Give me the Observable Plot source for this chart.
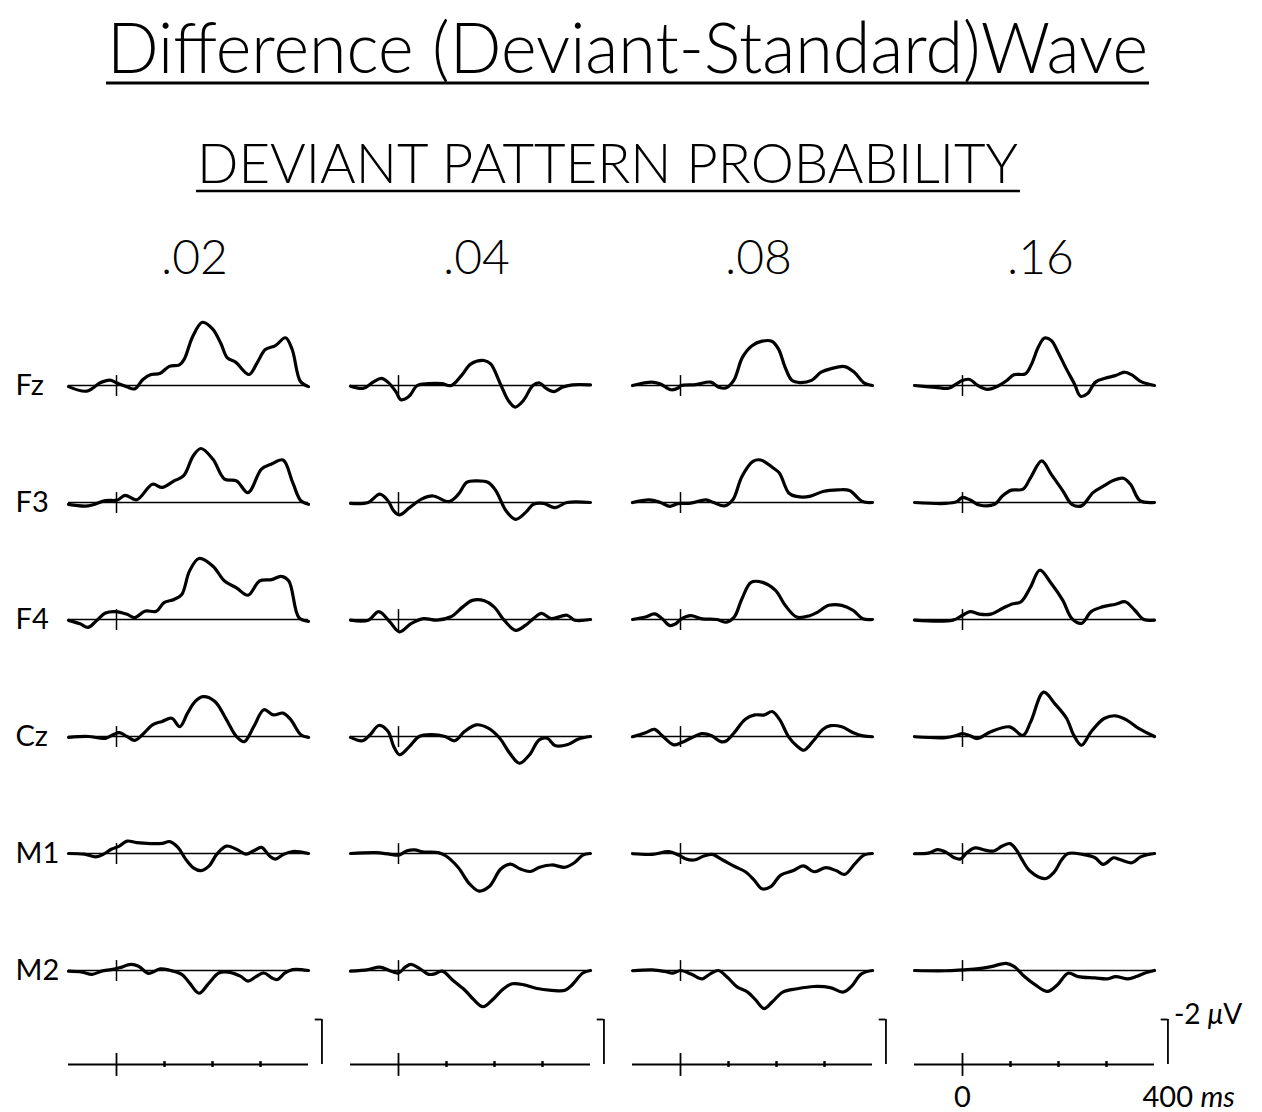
<!DOCTYPE html>
<html>
<head>
<meta charset="utf-8">
<script src="https://cdn.jsdelivr.net/npm/d3@7"></script>
<script src="https://cdn.jsdelivr.net/npm/@observablehq/plot@0.6"></script>
<style>
  html, body { margin: 0; padding: 0; background: #fff; overflow: hidden; }
  #chart svg { display: block; }
</style>
</head>
<body>
<div id="chart"></div>
<script>
// ---- Texts ----
const title = "Difference (Deviant-Standard)Wave";
const subtitle = "DEVIANT PATTERN PROBABILITY";
const electrodes = ["Fz", "F3", "F4", "Cz", "M1", "M2"];
const probabilities = [".02", ".04", ".08", ".16"];
const scaleTicks = [100, 200, 300];      // ms, small ticks on the calibration axis
const scaleBarUv = -2;                   // µV, calibration bar (negative up)
const scaleBarTime = 428;                // ms, where the calibration bar stands

// ---- Waveforms: [time (ms), amplitude (µV), negative plotted up] ----
const Fz_02 = [[-100,0.05],[-62,0.25],[-34,-0.12],[-14,-0.24],[0,-0.12],[21,0.05],[38,0.15],[55,-0.27],[72,-0.49],[90,-0.53],[110,-0.85],[131,-0.92],[141,-1.16],[159,-2.19],[179,-2.81],[200,-2.52],[217,-1.89],[231,-1.23],[248,-1.04],[276,-0.49],[293,-1.01],[310,-1.6],[331,-1.77],[352,-2.12],[366,-1.6],[383,-0.19],[400,0.05]];
const Fz_04 = [[-100,0.03],[-73,0.12],[-53,-0.15],[-36,-0.32],[-22,-0.15],[-5,0.29],[5,0.63],[22,0.48],[39,0],[63,-0.08],[90,-0.08],[110,0],[131,-0.44],[151,-0.96],[178,-1.11],[192,-0.96],[212,-0.08],[229,0.67],[243,0.96],[260,0.67],[280,0],[294,-0.11],[307,0.12],[324,0.27],[341,0.08],[362,-0.03],[400,-0.03]];
const Fz_08 = [[-100,0],[-60,-0.15],[-43,-0.08],[-19,0.19],[-5,0.11],[1,0],[32,-0.04],[63,-0.15],[80,0.08],[94,0.11],[111,-0.23],[129,-1.25],[149,-1.77],[170,-1.97],[190,-1.97],[204,-1.63],[218,-0.81],[232,-0.23],[249,-0.13],[273,-0.23],[293,-0.59],[314,-0.75],[342,-0.84],[362,-0.59],[383,-0.11],[400,0]];
const Fz_16 = [[-100,0],[-56,0.08],[-29,0.12],[-12,-0.08],[1,-0.23],[15,-0.27],[32,0],[52,0.17],[76,0],[93,-0.23],[107,-0.48],[131,-0.52],[144,-0.96],[158,-1.71],[171,-2.11],[185,-2],[199,-1.48],[216,-0.75],[233,-0.08],[246,0.48],[260,0.37],[277,-0.15],[297,-0.32],[318,-0.44],[338,-0.59],[352,-0.48],[372,-0.17],[400,0]];

const F3_02 = [[-100,0.08],[-59,0.15],[-23,-0.08],[2,-0.11],[18,-0.32],[42,-0.12],[75,-0.81],[95,-0.67],[120,-0.96],[140,-1.19],[160,-2.08],[176,-2.4],[201,-1.92],[225,-1.04],[250,-0.96],[274,-0.44],[302,-1.48],[323,-1.71],[347,-1.89],[367,-0.89],[384,-0.08],[400,0.08]];
const F3_04 = [[-100,0.04],[-63,0],[-39,-0.37],[-22,-0.08],[-10,0.37],[2,0.55],[23,0.23],[48,-0.15],[72,-0.29],[105,-0.04],[125,-0.37],[142,-0.89],[162,-0.96],[187,-0.89],[203,-0.52],[224,0.37],[244,0.75],[265,0.44],[281,0.08],[302,0.04],[326,0.23],[351,0],[400,0]];
const F3_08 = [[-100,0],[-65,-0.12],[-42,0],[-22,0.17],[-6,0.05],[21,0.03],[53,-0.12],[69,0],[92,0.15],[109,-0.12],[128,-1.16],[151,-1.83],[167,-1.89],[194,-1.52],[206,-1.31],[226,-0.41],[242,-0.27],[269,-0.27],[297,-0.49],[328,-0.56],[352,-0.53],[379,-0.04],[400,0]];
const F3_16 = [[-100,0],[-35,0.04],[-12,-0.04],[0,-0.23],[16,-0.11],[35,0.11],[67,0.08],[83,-0.29],[102,-0.55],[126,-0.59],[142,-1.11],[165,-1.85],[185,-1.25],[209,-0.52],[228,0.08],[248,0.15],[272,-0.44],[295,-0.75],[315,-0.99],[335,-1.08],[350,-0.81],[370,-0.08],[400,0]];

const F4_02 = [[-100,0.04],[-76,0.19],[-59,0.35],[-39,0],[-23,-0.29],[-2,-0.35],[22,-0.23],[38,-0.08],[59,-0.37],[83,-0.37],[99,-0.75],[120,-0.89],[136,-1.11],[152,-2.15],[172,-2.71],[201,-2.37],[225,-1.71],[250,-1.41],[274,-1.08],[298,-1.71],[323,-1.77],[343,-1.92],[359,-1.71],[380,-0.08],[400,0.08]];
const F4_04 = [[-100,0.03],[-63,0.03],[-41,-0.35],[-18,0.11],[2,0.55],[27,0.17],[52,-0.04],[80,0.03],[109,-0.12],[134,-0.56],[154,-0.85],[179,-0.83],[199,-0.56],[220,0.03],[244,0.48],[265,0.25],[281,-0.04],[298,-0.27],[318,-0.04],[351,-0.19],[367,0.03],[400,0]];
const F4_08 = [[-100,0],[-73,-0.11],[-54,-0.25],[-38,-0.03],[-22,0.27],[-10,0.19],[2,-0.03],[21,-0.17],[45,-0.03],[76,0],[96,0.12],[112,-0.11],[128,-0.92],[147,-1.65],[171,-1.65],[198,-1.29],[218,-0.63],[242,-0.11],[269,-0.17],[285,-0.32],[309,-0.63],[336,-0.63],[360,-0.4],[380,-0.03],[400,0]];
const F4_16 = [[-100,0.03],[-20,0.03],[0,-0.19],[16,-0.35],[35,-0.24],[59,-0.24],[83,-0.49],[102,-0.68],[122,-0.79],[142,-1.45],[161,-2.19],[185,-1.6],[209,-0.85],[228,-0.04],[248,0.17],[268,-0.35],[291,-0.56],[319,-0.68],[339,-0.79],[359,-0.41],[378,0],[400,0.03]];

const Cz_02 = [[-100,0.04],[-59,0],[-23,0.08],[-7,-0.08],[6,-0.17],[22,0],[38,0.17],[54,-0.08],[75,-0.52],[95,-0.67],[115,-0.81],[132,-0.44],[148,-1.04],[164,-1.56],[180,-1.77],[205,-1.56],[229,-0.75],[250,0],[266,0.23],[286,-0.44],[307,-1.19],[327,-0.96],[347,-1.04],[363,-0.75],[384,-0.08],[400,0.04]];
const Cz_04 = [[-100,0.04],[-75,0.19],[-59,-0.08],[-41,-0.49],[-22,-0.23],[-10,0.44],[2,0.81],[23,0.44],[43,0],[68,-0.08],[97,0],[117,0.19],[138,-0.23],[162,-0.52],[187,-0.37],[211,0.08],[232,0.75],[252,1.19],[273,0.81],[293,0.15],[310,0.08],[326,0.4],[351,0.37],[375,0.11],[400,0]];
const Cz_08 = [[-100,0.01],[-73,-0.17],[-54,-0.32],[-38,-0.03],[-14,0.37],[2,0.27],[21,0.08],[45,-0.13],[65,-0.03],[84,0.23],[96,0.19],[112,-0.17],[135,-0.77],[155,-0.96],[175,-0.96],[191,-1.11],[206,-0.77],[226,0.04],[242,0.41],[257,0.61],[277,0.19],[297,-0.32],[313,-0.48],[336,-0.43],[360,-0.17],[380,-0.03],[400,0.01]];
const Cz_16 = [[-100,0.01],[-35,0.05],[-12,-0.05],[0,-0.13],[16,-0.03],[31,0.09],[59,-0.21],[98,-0.43],[126,-0.05],[142,-0.65],[169,-1.97],[193,-1.44],[217,-0.8],[232,-0.05],[248,0.39],[268,-0.21],[295,-0.8],[319,-0.92],[343,-0.72],[367,-0.36],[400,0]];

const M1_02 = [[-100,0],[-67,0.03],[-43,0.15],[-27,0.03],[-11,-0.19],[6,-0.33],[22,-0.55],[42,-0.48],[71,-0.44],[95,-0.45],[111,-0.53],[128,-0.27],[144,0.25],[160,0.64],[176,0.76],[193,0.55],[209,0.03],[229,-0.33],[250,-0.19],[270,0.03],[286,-0.12],[302,-0.27],[319,0.11],[331,0.25],[347,0.05],[367,-0.09],[400,0]];
const M1_04 = [[-100,0],[-47,-0.04],[-19,0.03],[0,0.07],[18,-0.12],[34,-0.16],[50,-0.07],[83,-0.04],[99,0.11],[124,0.61],[148,1.35],[168,1.67],[189,1.47],[213,0.69],[233,0.47],[254,0.69],[274,0.8],[294,0.61],[319,0.51],[347,0.61],[367,0.4],[384,0.07],[400,0]];
const M1_08 = [[-100,0.01],[-59,0.04],[-24,-0.08],[-3,0.08],[10,0.23],[28,0.29],[49,0.11],[66,0.04],[88,0.29],[114,0.59],[135,0.81],[153,1.17],[170,1.57],[188,1.47],[209,0.96],[234,0.77],[256,0.55],[278,0.81],[303,0.63],[325,0.77],[342,0.93],[364,0.44],[381,0.08],[400,0]];
const M1_16 = [[-100,0.01],[-69,-0.03],[-52,-0.17],[-34,-0.05],[-17,0.19],[-4,0.24],[9,-0.03],[26,-0.25],[47,-0.15],[65,-0.11],[82,-0.32],[99,-0.44],[112,-0.17],[124,0.27],[141,0.79],[172,1.12],[190,0.85],[207,0.27],[220,0],[250,0.04],[276,0.19],[293,0.48],[315,0.19],[328,0.27],[353,0.41],[371,0.15],[388,0.04],[400,0]];

const M2_02 = [[-100,0.03],[-72,0.07],[-51,0.17],[-31,0.03],[-11,-0.04],[6,-0.12],[30,-0.27],[46,-0.19],[67,0.13],[91,-0.07],[111,-0.01],[136,0.17],[152,0.55],[172,1.01],[193,0.55],[213,0.11],[233,0.07],[258,0.25],[274,0.47],[290,0.28],[307,0.11],[323,0.32],[335,0.4],[351,0.11],[367,-0.04],[400,0]];
const M2_04 = [[-100,0.03],[-63,-0.04],[-39,-0.15],[-19,0],[0,0.11],[14,-0.15],[26,-0.27],[42,-0.12],[63,0.17],[75,0.15],[91,0.03],[115,0.47],[140,0.91],[156,1.28],[176,1.61],[197,1.28],[217,0.84],[237,0.59],[262,0.64],[286,0.79],[319,0.88],[347,0.88],[363,0.61],[384,0.11],[400,0]];
const M2_08 = [[-100,0.01],[-59,-0.03],[-33,0.04],[-16,0.12],[0,0],[23,0.17],[45,0.37],[62,0.15],[79,0],[97,0.29],[118,0.73],[140,0.96],[157,1.32],[174,1.69],[191,1.4],[213,0.96],[243,0.81],[278,0.71],[312,0.76],[338,0.96],[355,0.73],[377,0.15],[400,0]];
const M2_16 = [[-100,0],[-34,0.01],[0,-0.03],[34,-0.08],[60,-0.17],[91,-0.32],[108,-0.17],[129,0.27],[151,0.63],[177,0.93],[198,0.63],[220,0.12],[241,0.27],[276,0.33],[302,0.37],[319,0.27],[345,0.37],[362,0.27],[379,0.12],[400,0]];

// ---- Tables built from the arrays ----
const waves = {
  Fz: [Fz_02, Fz_04, Fz_08, Fz_16],
  F3: [F3_02, F3_04, F3_08, F3_16],
  F4: [F4_02, F4_04, F4_08, F4_16],
  Cz: [Cz_02, Cz_04, Cz_08, Cz_16],
  M1: [M1_02, M1_04, M1_08, M1_16],
  M2: [M2_02, M2_04, M2_08, M2_16]
};
const points = electrodes.flatMap(e => probabilities.flatMap((p, i) =>
  waves[e][i].map(([t, v]) => ({electrode: e, prob: p, t, v}))));
const panels = electrodes.flatMap(e => probabilities.map(p => ({electrode: e, prob: p})));
const scaleRow = probabilities.map(p => ({electrode: "scale", prob: p}));
const scaleTickRows = probabilities.flatMap(p => scaleTicks.map(t => ({electrode: "scale", prob: p, t})));

const FONT = "Lato, 'Open Sans', sans-serif";
const SCALE_DY = -23;

// ---- Title block ----
const head = d3.create("svg")
  .attr("width", 1262).attr("height", 230)
  .style("display", "block")
  .style("font-family", FONT);
head.append("text")
  .attr("x", 107).attr("y", 73)
  .attr("font-size", 70).attr("font-weight", 300)
  .attr("textLength", 1041).attr("lengthAdjust", "spacingAndGlyphs")
  .text(title);
head.append("line").attr("x1", 106).attr("x2", 1149).attr("y1", 83).attr("y2", 83)
  .attr("stroke", "#000").attr("stroke-width", 3);
head.append("text")
  .attr("x", 197).attr("y", 183)
  .attr("font-size", 56).attr("font-weight", 300)
  .attr("textLength", 821).attr("lengthAdjust", "spacingAndGlyphs")
  .text(subtitle);
head.append("line").attr("x1", 196).attr("x2", 1020).attr("y1", 191).attr("y2", 191)
  .attr("stroke", "#000").attr("stroke-width", 2.5);

// ---- Plot ----
const chart = Plot.plot({
  width: 1262,
  height: 882,
  marginTop: 56,
  marginBottom: 7,
  marginLeft: 68,
  marginRight: 108,
  style: {fontFamily: FONT, background: "#fff", color: "#000", overflow: "visible"},
  x: {domain: [-100, 400], axis: null},
  y: {domain: [0.8, -4.4], axis: null},
  fx: {domain: probabilities, paddingInner: 0.149, paddingOuter: 0, axis: null},
  fy: {domain: [...electrodes, "scale"], padding: 0, axis: null},
  marks: [
    // baselines
    Plot.ruleY(panels, {fx: "prob", fy: "electrode", y: () => 0, stroke: "#000", strokeWidth: 1.3}),
    // stimulus onset ticks
    Plot.ruleX(panels, {fx: "prob", fy: "electrode", x: () => 0, y1: () => -0.44, y2: () => 0.49, stroke: "#000", strokeWidth: 1.5}),
    // waveforms
    Plot.line(points, {
      fx: "prob", fy: "electrode", x: "t", y: "v",
      z: d => d.electrode + d.prob,
      curve: "catmull-rom", stroke: "#000", strokeWidth: 3.2,
      strokeLinejoin: "round", strokeLinecap: "round"
    }),
    // calibration row
    Plot.ruleY(scaleRow, {fx: "prob", fy: "electrode", y: () => 0, dy: SCALE_DY, stroke: "#000", strokeWidth: 2}),
    Plot.ruleX(scaleRow, {fx: "prob", fy: "electrode", x: () => 0, y1: () => -0.49, y2: () => 0.53, dy: SCALE_DY, stroke: "#000", strokeWidth: 1.8}),
    Plot.ruleX(scaleTickRows, {fx: "prob", fy: "electrode", x: "t", y1: () => -0.13, y2: () => 0.13, dy: SCALE_DY, stroke: "#000", strokeWidth: 2.5}),
    Plot.ruleX(scaleRow, {fx: "prob", fy: "electrode", x: () => scaleBarTime, y1: () => 0, y2: () => scaleBarUv, dy: SCALE_DY, stroke: "#000", strokeWidth: 1.8}),
    Plot.ruleY(scaleRow, {fx: "prob", fy: "electrode", y: () => scaleBarUv, x1: () => scaleBarTime - 14, x2: () => scaleBarTime, dy: SCALE_DY, stroke: "#000", strokeWidth: 1.8}),
    Plot.text([{electrode: "scale", prob: ".16"}], {
      fx: "prob", fy: "electrode", x: () => scaleBarTime, y: () => scaleBarUv,
      text: () => "-2 μV", textAnchor: "start", dx: 6, dy: SCALE_DY - 4,
      fontSize: 28, fontWeight: 400, fill: "#000"
    }),
    Plot.text([{electrode: "scale", prob: ".16"}], {
      fx: "prob", fy: "electrode", x: () => 0, y: () => 0,
      text: () => "0", dy: 10, fontSize: 29, fontWeight: 400, fill: "#000"
    }),
    Plot.text([{electrode: "scale", prob: ".16"}], {
      fx: "prob", fy: "electrode", x: () => 400, y: () => 0,
      text: () => "400 ms", textAnchor: "start", dx: -12, dy: 10,
      fontSize: 29, fontWeight: 400, fill: "#000"
    }),
    // electrode labels
    Plot.text(electrodes.map(e => ({electrode: e, prob: ".02"})), {
      fx: "prob", fy: "electrode", x: () => -100, y: () => 0,
      text: "electrode", textAnchor: "start", dx: -53,
      fontSize: 29, fontWeight: 400, fill: "#000"
    }),
    // column headers
    Plot.text(probabilities.map(p => ({electrode: "Fz", prob: p})), {
      fx: "prob", fy: "electrode", x: () => 150, frameAnchor: "top",
      lineAnchor: "middle", text: "prob", dx: 6, dy: -28,
      fontSize: 48, fontWeight: 300, fill: "#000"
    })
  ]
});

// italic unit symbols, as in the original
d3.select(chart).selectAll("text").each(function() {
  const t = this.textContent;
  if (t === "400 ms") {
    this.textContent = "";
    d3.select(this).append("tspan").text("400 ");
    d3.select(this).append("tspan").attr("font-style", "italic").text("ms");
  } else if (t === "-2 μV") {
    this.textContent = "";
    d3.select(this).append("tspan").text("-2 ");
    d3.select(this).append("tspan").attr("font-style", "italic").text("μ");
    d3.select(this).append("tspan").text("V");
  }
});

const root = document.getElementById("chart");
root.appendChild(head.node());
root.appendChild(chart);
</script>
</body>
</html>
